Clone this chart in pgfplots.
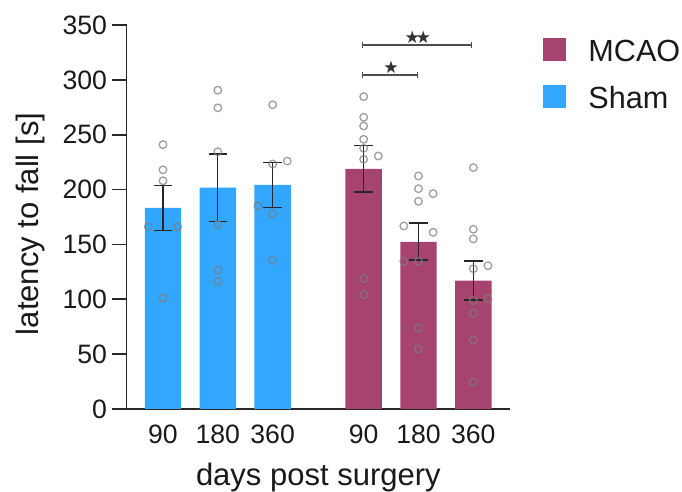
\documentclass[border=0pt]{standalone}
\usepackage{fontspec}
\setmainfont{Liberation Sans}
\newfontfamily\djv{DejaVu Sans}
\usepackage{pgfplots}
\pgfplotsset{compat=1.18}
\usepackage{pgfplotstable}
\definecolor{shamblue}{RGB}{51,167,255}
\definecolor{mcao}{RGB}{166,67,111}
\definecolor{axcol}{RGB}{40,40,40}
\definecolor{ptcol}{RGB}{125,125,125}

% bars: x mean plus minus
\pgfplotstableread{
x y ep em
1 183.3 20.3 20.6
2 201.8 30.6 30.8
3 204.2 20.3 20.2
}\shambars
\pgfplotstableread{
x y ep em
4.66 218.8 21.6 21.0
5.66 152.3 17.2 16.5
6.66 117.1 17.8 17.7
}\mcaobars
\pgfplotstableread{
x y
1 241
1 218
1 208
0.733 166
1.267 166
1 101
2 290.6
2 274.5
2 234.5
2 167.9
2 126.7
2 116.4
3 277.3
3.267 226
3 223.3
2.733 185.2
3 177.9
3 135.5
}\shampts
\pgfplotstableread{
x y
4.66 284.7
4.66 265.9
4.66 258
4.66 245.8
4.66 237.6
4.66 227.6
4.927 230.6
4.66 118.8
4.66 104.2
5.66 212.4
5.66 200.8
5.927 196.3
5.66 189.3
5.393 166.8
5.927 161
5.393 134.6
5.66 134.6
5.66 73.8
5.66 54.7
6.66 220
6.66 163.8
6.66 155
6.927 130.6
6.66 127.9
6.927 100.5
6.66 98.7
6.66 87.2
6.66 62.9
6.66 24.6
}\mcaopts

\begin{document}
\begin{tikzpicture}
\useasboundingbox (-63.35pt,-41.5pt) rectangle (277.65pt,204.5pt);
\begin{axis}[
  at={(0pt,0pt)}, anchor=south west,
  scale only axis, width=191.65pt, height=192pt,
  xmin=0.338, xmax=7.329, ymin=0, ymax=350,
  axis x line*=bottom, axis y line*=left,
  axis line style={axcol, line width=0.8pt},
  ytick={0,50,...,350},
  xtick={1,2,3,4.66,5.66,6.66},
  xticklabels={90,180,360,90,180,360},
  tick align=outside,
  major tick length=7.5pt,
  ytick style={axcol, line width=0.8pt},
  xtick style={draw=none},
  /pgf/number format/assume math mode=true,
  tick label style={font=\fontsize{13.3}{16}\selectfont, text=black!90},
  yticklabel style={inner sep=0pt, xshift=-2.2pt},
  xticklabel style={anchor=base, inner sep=0pt, yshift=-10pt},
  xlabel={days post surgery},
  ylabel={latency to fall [s]},
  label style={font=\fontsize{15.5}{18}\selectfont, text=black!90},
  xlabel style={at={(axis description cs:0.5,-0.2005)}, anchor=base},
  ylabel style={at={(axis description cs:-0.230,0.482)}, anchor=base},
  legend style={at={(axis description cs:1.0853,0.965)}, anchor=north west,
    draw=none, fill=none, inner sep=0pt, outer sep=0pt,
    font=\fontsize{15.3}{18}\selectfont, text=black!90,
    row sep=11.5pt, column sep=11.5pt,
    nodes={inner sep=0pt, text height=11pt, text depth=0pt}},
  legend cell align=left,
  clip=false,
]
\addlegendimage{legend image code/.code={\fill[mcao] (0pt,-5pt) rectangle (11pt,6pt);}}
\addlegendentry{MCAO}
\addlegendimage{legend image code/.code={\fill[shamblue] (0pt,-5pt) rectangle (11pt,6pt);}}
\addlegendentry{Sham}

\addplot[forget plot, ybar, bar shift=0pt, bar width=0.665, fill=shamblue, draw=none] table[x=x,y=y] {\shambars};
\addplot[forget plot, ybar, bar shift=0pt, bar width=0.665, fill=mcao, draw=none] table[x=x,y=y] {\mcaobars};

\addplot[forget plot, only marks, mark=o, mark size=1.9pt, mark options={draw=ptcol, line width=0.65pt, draw opacity=0.75}] table[x=x,y=y] {\shampts};
\addplot[forget plot, only marks, mark=o, mark size=1.9pt, mark options={draw=ptcol, line width=0.65pt, draw opacity=0.75}] table[x=x,y=y] {\mcaopts};

\addplot[forget plot, draw=none, mark=none,
  error bars/.cd, y dir=both, y explicit,
  error bar style={draw=black!85, line width=0.6pt},
  error mark=-,
  error mark options={draw=black!85, line width=0.6pt, mark size=4.65pt, rotate=90}]
  table[x=x, y=y, y error plus=ep, y error minus=em] {\shambars};
\addplot[forget plot, draw=none, mark=none,
  error bars/.cd, y dir=both, y explicit,
  error bar style={draw=black!85, line width=0.6pt},
  error mark=-,
  error mark options={draw=black!85, line width=0.6pt, mark size=4.65pt, rotate=90}]
  table[x=x, y=y, y error plus=ep, y error minus=em] {\mcaobars};

% significance brackets
\draw[black!70, line width=0.6pt] (axis cs:4.635,329) -- (axis cs:4.635,334.6) (axis cs:4.635,331.8) -- (axis cs:6.623,331.8) (axis cs:6.623,329) -- (axis cs:6.623,334.6);
\node[inner sep=0pt, text=black!80, font=\djv\fontsize{8.6}{10}\selectfont] at (axis cs:5.547,338.9) {★};
\node[inner sep=0pt, text=black!80, font=\djv\fontsize{8.6}{10}\selectfont] at (axis cs:5.747,338.9) {★};
\draw[black!70, line width=0.6pt] (axis cs:4.635,301.7) -- (axis cs:4.635,307.3) (axis cs:4.635,304.5) -- (axis cs:5.645,304.5) (axis cs:5.645,301.7) -- (axis cs:5.645,307.3);
\node[inner sep=0pt, text=black!80, font=\djv\fontsize{8.6}{10}\selectfont] at (axis cs:5.158,311.8) {★};
\end{axis}
\end{tikzpicture}
\end{document}
